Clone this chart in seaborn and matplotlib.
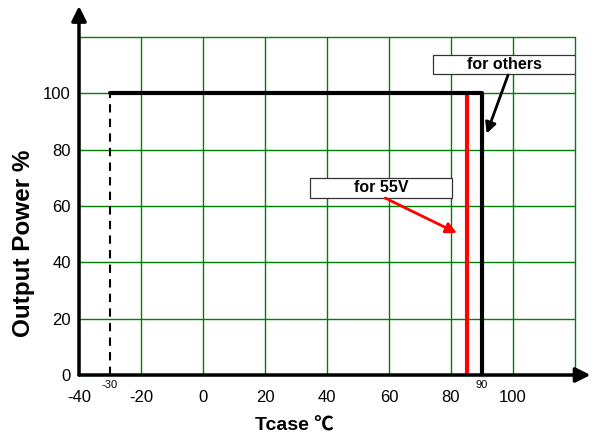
import matplotlib
matplotlib.use("Agg")
import matplotlib.pyplot as plt
import seaborn as sns
import pandas as pd

# ---- data ----
others_temp = [-30, 90, 90]
others_power = [100, 100, 0]
dash_temp = [-30, -30]
dash_power = [0, 100]
v55_temp = [85, 85]
v55_power = [0, 100]

x_ticks = [-40, -20, 0, 20, 40, 60, 80, 100, 120]
x_labels = ["-40", "-20", "0", "20", "40", "60", "80", "100", ""]
y_ticks = [0, 20, 40, 60, 80, 100, 120]
y_labels = ["0", "20", "40", "60", "80", "100", ""]
small_marks = [-30, 90]
label_others = "for others"
label_55v = "for 55V"
x_title = "Tcase ℃"
y_title = "Output Power %"

sns.set_style("white")
plt.rcParams["font.family"] = ["Liberation Sans", "Noto Sans CJK SC", "DejaVu Sans"]
plt.rcParams["text.color"] = "black"
plt.rcParams["xtick.color"] = "black"
plt.rcParams["ytick.color"] = "black"
plt.rcParams["xtick.labelcolor"] = "black"
plt.rcParams["ytick.labelcolor"] = "black"

fig = plt.figure(figsize=(5.97, 4.44), dpi=100)
ax = fig.add_axes([79 / 597, 1 - 375 / 444, (575 - 79) / 597, (375 - 37) / 444])

grid_green = "#008000"
ax.set_xlim(-40, 120)
ax.set_ylim(0, 120)
ax.set_xticks(x_ticks)
ax.set_xticklabels(x_labels, fontsize=12, color="black")
ax.set_yticks(y_ticks)
ax.set_yticklabels(y_labels, fontsize=12, color="black")
ax.tick_params(length=0, pad=6)
ax.tick_params(axis="x", pad=11)
ax.grid(True, color=grid_green, lw=1.0)
ax.set_axisbelow(True)
for gl in ax.get_xgridlines() + ax.get_ygridlines():
    gl.set_clip_on(False)
for s in ax.spines.values():
    s.set_visible(False)

df_o = pd.DataFrame({"t": others_temp, "p": others_power})
df_d = pd.DataFrame({"t": dash_temp, "p": dash_power})
df_r = pd.DataFrame({"t": v55_temp, "p": v55_power})
sns.lineplot(data=df_d, x="t", y="p", ax=ax, color="black", lw=1.5,
             linestyle=(0, (4, 3)), sort=False, estimator=None)
sns.lineplot(data=df_r, x="t", y="p", ax=ax, color="#ff0000", lw=3,
             sort=False, estimator=None)
sns.lineplot(data=df_o, x="t", y="p", ax=ax, color="black", lw=3,
             sort=False, estimator=None)
ax.set_xlabel("")
ax.set_ylabel("")

# axis arrows
ax.annotate("", xy=(-40, 131), xytext=(-40, 0), annotation_clip=False,
            arrowprops=dict(arrowstyle="-|>", color="black", lw=2.5,
                            mutation_scale=22, shrinkA=0, shrinkB=0))
ax.annotate("", xy=(125, 0), xytext=(-40, 0), annotation_clip=False,
            arrowprops=dict(arrowstyle="-|>", color="black", lw=2.5,
                            mutation_scale=22, shrinkA=0, shrinkB=0))

# small labels
for m in small_marks:
    ax.text(m, -1.8, str(m), ha="center", va="top", fontsize=8, color="black")

# text boxes
ax.add_patch(plt.Rectangle((74.2, 106.8), 45.8, 6.9, fc="white", ec="#333333", lw=0.9, zorder=5))
ax.text(97.1, 110.3, label_others, ha="center", va="center", fontsize=11.5,
        fontweight="bold", zorder=6, color="black")
ax.add_patch(plt.Rectangle((34.5, 62.9), 45.9, 7.1, fc="white", ec="#333333", lw=0.9, zorder=5))
ax.text(57.4, 66.5, label_55v, ha="center", va="center", fontsize=11.5,
        fontweight="bold", zorder=6, color="black")

ax.annotate("", xy=(91.5, 85.7), xytext=(98.4, 106.5),
            arrowprops=dict(arrowstyle="-|>", color="black", lw=2,
                            mutation_scale=16, shrinkA=0, shrinkB=0), zorder=7)
ax.annotate("", xy=(81.9, 50.4), xytext=(58.8, 62.8),
            arrowprops=dict(arrowstyle="-|>", color="#ff0000", lw=2,
                            mutation_scale=16, shrinkA=0, shrinkB=0), zorder=7)

fig.text(24 / 597, 1 - 243 / 444, y_title, rotation=90, ha="center", va="center",
         fontsize=17.5, fontweight="bold", color="black")
fig.text(294 / 597, 1 - 426 / 444, x_title, ha="center", va="center",
         fontsize=14, fontweight="bold", color="black")

fig.savefig("out.png", dpi=100)
